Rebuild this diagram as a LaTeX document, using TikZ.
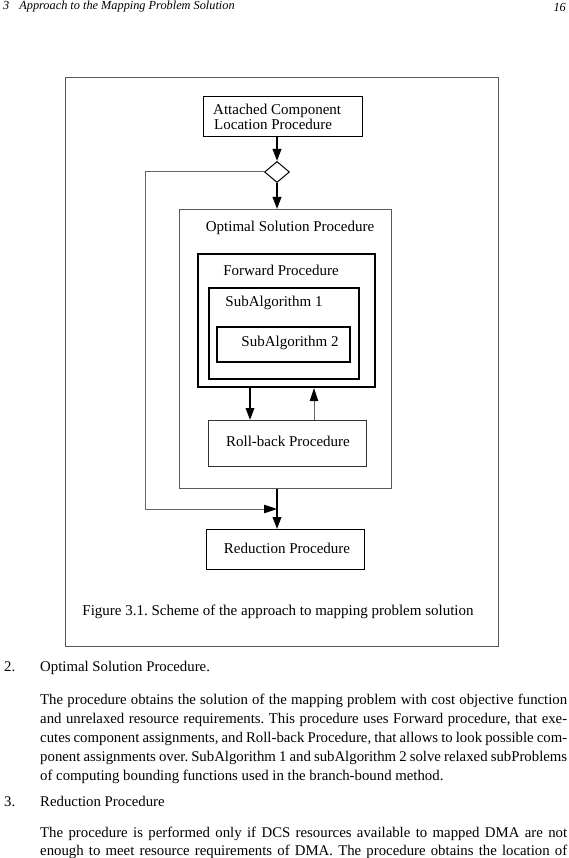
\documentclass[tikz,border=0pt]{standalone}
\usepackage{fontspec}
\setmainfont{Liberation Serif}
\usetikzlibrary{arrows.meta,shapes.geometric,calc}
\begin{document}
\frenchspacing
\begin{tikzpicture}[x=1pt,y=-1pt,
  box/.style={draw=#1, anchor=north west, inner sep=0pt},
  ttl/.style={font=\fontsize{15}{17}\selectfont, inner sep=0pt},
  arr/.style={line width=2pt, -{Triangle[length=12pt,width=8.5pt]}},
  thinarr/.style={line width=1pt, draw=black!60, -{Triangle[length=13pt,width=8.5pt,color=black]}},
  body/.style={font=\fontsize{14.8}{18}\selectfont, anchor=base west, inner sep=0pt}]
\useasboundingbox[fill=white] (0,0) rectangle (569,858);
% header
\node[anchor=west, inner sep=0pt, font=\itshape\fontsize{12.3}{14}\selectfont] (hdr) at (3,7) {3\hspace{10pt}Approach to the Mapping Problem Solution};
\node[anchor=east, inner sep=0pt, font=\itshape\fontsize{12.3}{14}\selectfont] (pg) at (566,7) {16};
% frame
\node[box=black!65, line width=1pt, minimum width=433pt, minimum height=569pt] (frame) at (65,77) {};
% attached component
\node[box=black, line width=1pt, minimum width=159pt, minimum height=40pt] (att) at (203,96) {};
\node[ttl, anchor=north west, align=left, font=\fontsize{15}{13}\selectfont] (attt) at (213,104) {Attached Component\\\hspace{1pt}Location Procedure};
% diamond
\node[diamond, draw, line width=1pt, minimum width=25pt, minimum height=21pt, inner sep=0pt, aspect=1.2] (dia) at (277,172) {};
% optimal
\node[box=black!65, line width=1pt, minimum width=212pt, minimum height=279pt] (opt) at (179,209) {};
\node[ttl] (optt) at (290,228) {Optimal Solution Procedure};
% forward
\node[box=black, line width=2.2pt, minimum width=177pt, minimum height=133pt] (fwd) at (197,253) {};
\node[ttl] (fwdt) at (281,270) {Forward Procedure};
% sub 1
\node[box=black, line width=1.6pt, minimum width=150pt, minimum height=91pt] (s1) at (208,287) {};
\node[ttl] (s1t) at (274,303) {SubAlgorithm 1};
% sub 2
\node[box=black, line width=2pt, minimum width=133pt, minimum height=35pt] (s2) at (216,326) {};
\node[ttl] (s2t) at (290,343) {SubAlgorithm 2};
% roll-back
\node[box=black!80, line width=1pt, minimum width=158pt, minimum height=46pt] (rb) at (208,420) {};
\node[ttl] (rbt) at (288,441) {Roll-back Procedure};
% reduction
\node[box=black, line width=1pt, minimum width=158pt, minimum height=40pt] (red) at (206,529) {};
\node[ttl] (redt) at (287,548) {Reduction Procedure};
% caption
\node[ttl] (cap) at (278,612) {Figure 3.1. Scheme of the approach to mapping problem solution};
% connectors
\coordinate (fx) at (250,0);
\coordinate (bx) at (314,0);
\coordinate (fb1) at (145,172);
\coordinate (fb2) at (145,509);
\draw[arr] (att.south -| dia) -- (dia.north);
\draw[arr] (dia.south) -- (opt.north -| dia);
\draw[arr] (opt.south -| dia) -- (red.north -| dia);
\draw[arr] (fwd.south -| fx) -- (rb.north -| fx);
\draw[thinarr] (rb.north -| bx) -- (fwd.south -| bx);
\draw[thinarr] (dia.west) -- (fb1) -- (fb2) -- (fb2 -| dia);
% body text
\node[body] (n2) at (4,671) {2.};
\node[body] (h2) at (40,671) {Optimal Solution Procedure.};
\node[body] (l1) at (40,704.5) {\makebox[527pt][s]{The procedure obtains the solution of the mapping problem with cost objective function}};
\node[body] (l2) at (40,723.5) {\makebox[527pt][s]{and unrelaxed resource requirements. This procedure uses Forward procedure, that exe-}};
\node[body] (l3) at (40,742.5) {\makebox[527pt][s]{cutes component assignments, and Roll-back Procedure, that allows to look possible com-}};
\node[body] (l4) at (40,761.5) {\makebox[527pt][s]{ponent assignments over. SubAlgorithm 1 and subAlgorithm 2 solve relaxed subProblems}};
\node[body] (l5) at (40,780.5) {of computing bounding functions used in the branch-bound method.};
\node[body] (n3) at (4,806) {3.};
\node[body] (h3) at (40,806) {Reduction Procedure};
\node[body] (l6) at (40,837) {\makebox[527pt][s]{The procedure is performed only if DCS resources available to mapped DMA are not}};
\node[body] (l7) at (40,855) {\makebox[527pt][s]{enough to meet resource requirements of DMA. The procedure obtains the location of}};
\end{tikzpicture}
\end{document}
